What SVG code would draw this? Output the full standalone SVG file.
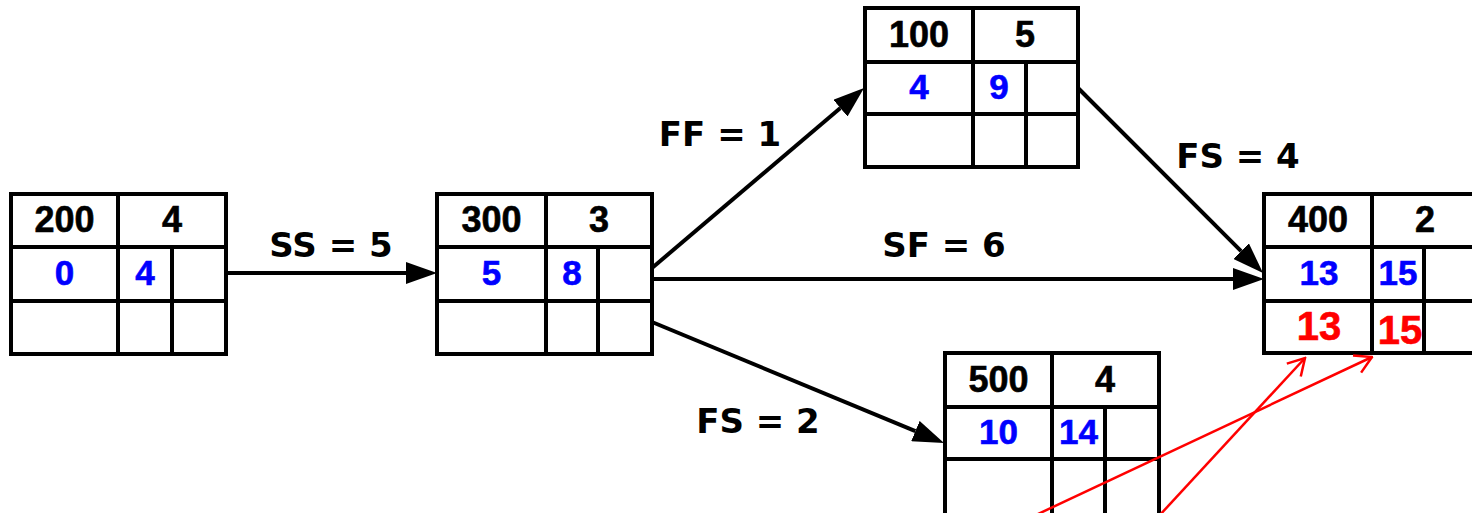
<svg xmlns="http://www.w3.org/2000/svg" width="1472" height="513" viewBox="0 0 1472 513">
  <style>
    .cell { fill: #ffffff; stroke: #000000; stroke-width: 4; }
    .grid { stroke: #000000; stroke-width: 4; fill: none; }
    .num { font-family: "Liberation Sans", Arial, sans-serif; font-weight: bold; text-anchor: middle; stroke-width: 0.6; }
    .head { font-size: 36px; fill: #000000; stroke: #000000; }
    .early { font-size: 35px; fill: #0000ff; stroke: #0000ff; }
    .late { font-size: 40px; fill: #ff0000; stroke: #ff0000; }
    .lbl { font-family: "DejaVu Sans", Verdana, sans-serif; font-weight: bold; font-size: 34px; fill: #000000; text-anchor: middle; }
    .link { stroke: #000000; stroke-width: 4; fill: none; }
    .trace { stroke: #ff0000; stroke-width: 2.5; fill: none; }
  </style>
  <defs>
    <marker id="solidHead" viewBox="0 0 31 22" markerWidth="31" markerHeight="22" refX="0" refY="11" markerUnits="userSpaceOnUse" orient="auto">
      <path d="M0,0 L31,11 L0,22 z" fill="#000000"/>
    </marker>
    <marker id="openHead" viewBox="0 0 19 22" markerWidth="19" markerHeight="22" refX="17.5" refY="11" markerUnits="userSpaceOnUse" orient="auto">
      <path d="M1,1.5 L17.5,11 L1,20.5" fill="none" stroke="#ff0000" stroke-width="2.5"/>
    </marker>
  </defs>

  <!-- activity 200 -->
  <g id="node-200">
    <rect class="cell" x="11" y="194" width="215" height="160"/>
    <path class="grid" d="M11,247 H226 M11,301 H226 M118,194 V354 M172,247 V354"/>
    <text class="num head" x="64.5" y="232">200</text>
    <text class="num head" x="172" y="232">4</text>
    <text class="num early" x="64.5" y="285">0</text>
    <text class="num early" x="145" y="285">4</text>
  </g>

  <!-- activity 300 -->
  <g id="node-300">
    <rect class="cell" x="437" y="194" width="215" height="160"/>
    <path class="grid" d="M437,247 H652 M437,301 H652 M546,194 V354 M598,247 V354"/>
    <text class="num head" x="491.5" y="232">300</text>
    <text class="num head" x="599" y="232">3</text>
    <text class="num early" x="491.5" y="285">5</text>
    <text class="num early" x="572" y="285">8</text>
  </g>

  <!-- activity 100 -->
  <g id="node-100">
    <rect class="cell" x="865" y="8" width="213" height="159"/>
    <path class="grid" d="M865,62 H1078 M865,114 H1078 M973,8 V167 M1026,62 V167"/>
    <text class="num head" x="919" y="47">100</text>
    <text class="num head" x="1025" y="47">5</text>
    <text class="num early" x="919" y="99">4</text>
    <text class="num early" x="999" y="99">9</text>
  </g>

  <!-- activity 400 -->
  <g id="node-400">
    <rect class="cell" x="1264" y="194" width="215" height="159"/>
    <path class="grid" d="M1264,247 H1479 M1264,301 H1479 M1372,194 V353 M1424,247 V353"/>
    <text class="num head" x="1318" y="232">400</text>
    <text class="num head" x="1425" y="232">2</text>
    <text class="num early" x="1319" y="285">13</text>
    <text class="num early" x="1398" y="285">15</text>
    <text class="num late" x="1319" y="340">13</text>
    <text class="num late" x="1400" y="344">15</text>
  </g>

  <!-- activity 500 -->
  <g id="node-500">
    <rect class="cell" x="945" y="353" width="214" height="180"/>
    <path class="grid" d="M945,407 H1159 M945,459 H1159 M1052,353 V533 M1105,407 V533"/>
    <text class="num head" x="998.5" y="392">500</text>
    <text class="num head" x="1105" y="392">4</text>
    <text class="num early" x="998.5" y="444">10</text>
    <text class="num early" x="1078.5" y="444">14</text>
  </g>

  <!-- dependency links -->
  <g id="connectors">
    <line class="link" x1="226" y1="273" x2="406" y2="273" marker-end="url(#solidHead)"/>
    <line class="link" x1="652" y1="268" x2="840.4" y2="108.1" marker-end="url(#solidHead)"/>
    <line class="link" x1="652" y1="279" x2="1233" y2="279" marker-end="url(#solidHead)"/>
    <line class="link" x1="1078" y1="88" x2="1241.1" y2="251.1" marker-end="url(#solidHead)"/>
    <line class="link" x1="652" y1="322" x2="915.4" y2="431.1" marker-end="url(#solidHead)"/>
    <line class="trace" x1="1004" y1="530" x2="1372" y2="357" marker-end="url(#openHead)"/>
    <line class="trace" x1="1146" y1="530" x2="1305" y2="358" marker-end="url(#openHead)"/>
  </g>

  <!-- link labels -->
  <g id="labels">
    <text class="lbl" x="331" y="257">SS = 5</text>
    <text class="lbl" x="720" y="146">FF = 1</text>
    <text class="lbl" x="944" y="257">SF = 6</text>
    <text class="lbl" x="1238" y="168">FS = 4</text>
    <text class="lbl" x="758" y="433">FS = 2</text>
  </g>
</svg>
